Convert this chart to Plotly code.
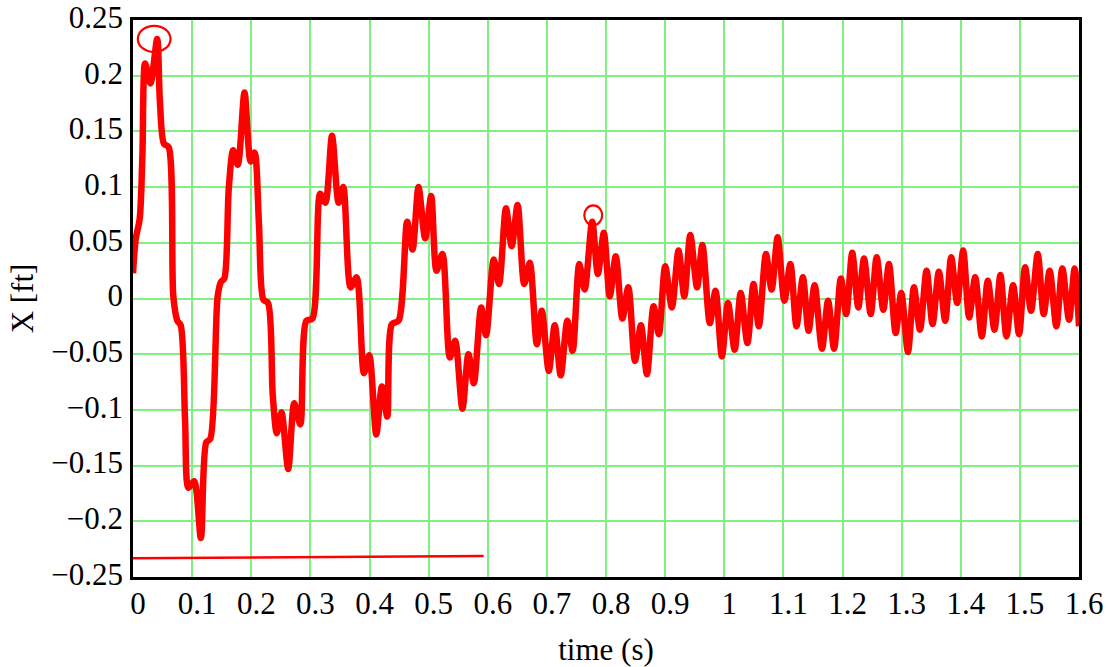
import plotly.graph_objects as go

# ---- data ----
time_s = [
    0.000, 0.0045, 0.0114, 0.0159, 0.0205, 0.0295, 0.0409, 0.0455, 0.0523, 0.0602,
    0.0682, 0.0750, 0.0807, 0.0881, 0.0938, 0.1034, 0.1148, 0.1239, 0.1307, 0.1432,
    0.1489, 0.1545, 0.1619, 0.1693, 0.1773, 0.1886, 0.1989, 0.2057, 0.2131, 0.2205,
    0.2284, 0.2364, 0.2432, 0.2511, 0.2625, 0.2727, 0.2830, 0.2932, 0.3035, 0.3165,
    0.3253, 0.3366, 0.3478, 0.3557, 0.3681, 0.3782, 0.3906, 0.3996, 0.4114, 0.4210,
    0.4300, 0.4379, 0.4491, 0.4637, 0.4728, 0.4829, 0.4941, 0.5043, 0.5133, 0.5234,
    0.5358, 0.5448, 0.5572, 0.5673, 0.5764, 0.5888, 0.5972, 0.6101, 0.6191, 0.6308,
    0.6404, 0.6505, 0.6617, 0.6712, 0.6830, 0.6914, 0.7032, 0.7133, 0.7234, 0.7346,
    0.7436, 0.7548, 0.7638, 0.7767, 0.7862, 0.7963, 0.8064, 0.8165, 0.8277, 0.8378,
    0.8490, 0.8591, 0.8692, 0.8804, 0.8894, 0.9001, 0.9114, 0.9227, 0.9324, 0.9426,
    0.9540, 0.9631, 0.9756, 0.9852, 0.9960, 1.0063, 1.0176, 1.0278, 1.0392, 1.0494,
    1.0585, 1.0705, 1.0801, 1.0903, 1.1017, 1.1119, 1.1222, 1.1330, 1.1426, 1.1528,
    1.1653, 1.1756, 1.1858, 1.1972, 1.2063, 1.2165, 1.2267, 1.2364, 1.2477, 1.2578,
    1.2690, 1.2786, 1.2899, 1.2994, 1.3107, 1.3208, 1.3310, 1.3422, 1.3523, 1.3630,
    1.3737, 1.3838, 1.3940, 1.4041, 1.4142, 1.4244, 1.4356, 1.4458, 1.4570, 1.4671,
    1.4773, 1.4885, 1.4986, 1.5088, 1.5189, 1.5302, 1.5403, 1.5504, 1.5617, 1.5718,
    1.5831, 1.5926, 1.6000,
]
x_ft = [
    0.0226, 0.053, 0.072, 0.129, 0.211, 0.193, 0.233, 0.177, 0.139, 0.136,
    0.002, -0.020, -0.024, -0.110, -0.170, -0.164, -0.215, -0.129, -0.126, 0.002,
    0.015, 0.018, 0.098, 0.133, 0.120, 0.185, 0.123, 0.131, 0.066, -0.001,
    -0.004, -0.087, -0.121, -0.102, -0.153, -0.094, -0.113, -0.020, -0.018, 0.094,
    0.086, 0.146, 0.086, 0.100, 0.010, 0.019, -0.067, -0.051, -0.122, -0.079,
    -0.106, -0.023, -0.020, 0.069, 0.044, 0.100, 0.054, 0.092, 0.025, 0.040,
    -0.053, -0.038, -0.099, -0.050, -0.076, -0.008, -0.033, 0.035, 0.013, 0.081,
    0.047, 0.084, 0.013, 0.032, -0.041, -0.011, -0.065, -0.024, -0.069, -0.020,
    -0.047, 0.031, 0.008, 0.069, 0.022, 0.059, 0.002, 0.038, -0.018, 0.010,
    -0.056, -0.024, -0.068, -0.007, -0.032, 0.029, -0.008, 0.043, 0.002, 0.057,
    0.010, 0.048, -0.022, 0.007, -0.052, -0.004, -0.046, 0.005, -0.040, 0.013,
    -0.025, 0.040, 0.008, 0.055, -0.002, 0.031, -0.025, 0.019, -0.029, 0.012,
    -0.045, -0.002, -0.045, 0.018, -0.014, 0.041, -0.008, 0.036, -0.014, 0.037,
    -0.010, 0.031, -0.031, 0.005, -0.048, 0.010, -0.028, 0.025, -0.023, 0.024,
    -0.020, 0.037, -0.004, 0.043, -0.017, 0.019, -0.034, 0.016, -0.028, 0.021,
    -0.034, 0.012, -0.032, 0.028, -0.011, 0.040, -0.014, 0.025, -0.025, 0.027,
    -0.019, 0.027, -0.025,
]

# thin reference line near the bottom
ref_t = [0.0, 0.593]
ref_x = [-0.2332, -0.2312]

# highlighted points (ellipse centres and half-extents in data units)
mark_t = [0.0358, 0.7784]
mark_x = [0.233, 0.0747]
mark_half_t = [0.0276, 0.0151]
mark_half_x = [0.0118, 0.0089]

x_tickvals = [0, 0.1, 0.2, 0.3, 0.4, 0.5, 0.6, 0.7, 0.8, 0.9, 1.0, 1.1, 1.2, 1.3, 1.4, 1.5, 1.6]
x_ticktext = ["0", "0.1", "0.2", "0.3", "0.4", "0.5", "0.6", "0.7", "0.8", "0.9",
              "1", "1.1", "1.2", "1.3", "1.4", "1.5", "1.6"]
y_tickvals = [0.25, 0.2, 0.15, 0.1, 0.05, 0, -0.05, -0.1, -0.15, -0.2, -0.25]
y_ticktext = ["0.25", "0.2", "0.15", "0.1", "0.05", "0", "\u22120.05", "\u22120.1",
              "\u22120.15", "\u22120.2", "\u22120.25"]

RED = "#ff0000"
GRID = "rgb(128,240,128)"
FONT = "Liberation Serif, Times New Roman, serif"

fig = go.Figure()
fig.add_trace(go.Scatter(
    x=time_s, y=x_ft, mode="lines",
    line=dict(color=RED, width=6.5, shape="spline", smoothing=0.8),
    showlegend=False, hoverinfo="skip",
))
fig.add_trace(go.Scatter(
    x=ref_t, y=ref_x, mode="lines",
    line=dict(color=RED, width=2.5),
    showlegend=False, hoverinfo="skip",
))

for t, v, ht, hv in zip(mark_t, mark_x, mark_half_t, mark_half_x):
    fig.add_shape(type="circle", xref="x", yref="y",
                  x0=t - ht, x1=t + ht, y0=v - hv, y1=v + hv,
                  line=dict(color=RED, width=2.2), fillcolor="rgba(0,0,0,0)")

fig.update_layout(
    width=1108, height=667,
    margin=dict(l=133, r=29, t=20, b=90),
    paper_bgcolor="white", plot_bgcolor="white",
    font=dict(family=FONT, size=31, color="black"),
)
fig.update_xaxes(
    range=[0, 1.6], tickvals=x_tickvals, ticktext=x_ticktext,
    showgrid=True, gridcolor=GRID, gridwidth=2, zeroline=False,
    showline=True, linecolor="black", linewidth=2.5, mirror=True,
    ticks="", ticklabelstandoff=-3, ticklabelshift=5, automargin=False,
    ticklabeloverflow="allow",
    tickfont=dict(family=FONT, size=31, color="black"),
    title=dict(text="time (s)", font=dict(family=FONT, size=31, color="black"), standoff=20),
)
fig.update_yaxes(
    range=[-0.25, 0.25], tickvals=y_tickvals, ticktext=y_ticktext,
    showgrid=True, gridcolor=GRID, gridwidth=2, zeroline=False,
    showline=True, linecolor="black", linewidth=2.5, mirror=True,
    ticks="", ticklabelstandoff=1, ticklabelshift=-3, automargin=False,
    ticklabeloverflow="allow",
    tickfont=dict(family=FONT, size=31, color="black"),
    title=dict(text="X [ft]", font=dict(family=FONT, size=31, color="black"), standoff=9),
)

fig.write_html("out.html")
